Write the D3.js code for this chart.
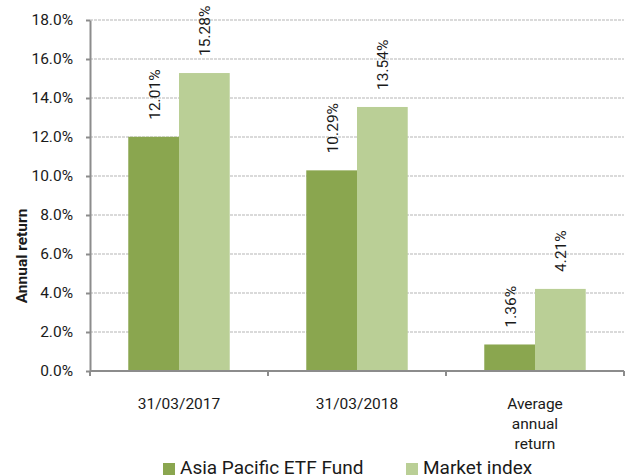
<!DOCTYPE html>
<html>
<head>
<meta charset="utf-8">
<script src="https://cdn.jsdelivr.net/npm/d3@7"></script>
<style>
  body { margin: 0; background: #fff; }
  svg { font-family: Roboto, "Noto Sans", sans-serif; }
</style>
</head>
<body>
<svg id="chart" width="628" height="475"></svg>
<script>
const categories = ["31/03/2017", "31/03/2018", "Average annual return"];
const categoryLines = [["31/03/2017"], ["31/03/2018"], ["Average", "annual", "return"]];
const seriesNames = ["Asia Pacific ETF Fund", "Market index"];
const fundValues = [12.01, 10.29, 1.36];
const indexValues = [15.28, 13.54, 4.21];
const yTicks = [0, 2, 4, 6, 8, 10, 12, 14, 16, 18];
const colors = ["#8AA64F", "#BACF96"];

const margin = {top: 20, right: 4, bottom: 104, left: 90};
const width = 628 - margin.left - margin.right;
const height = 475 - margin.top - margin.bottom;

const svg = d3.select("#chart")
    .append("g")
    .attr("transform", "translate(" + margin.left + "," + margin.top + ")");

const x = d3.scaleBand()
    .domain(categories)
    .range([0, width])
    .paddingInner(0)
    .paddingOuter(0);

const xInner = d3.scaleBand()
    .domain(seriesNames)
    .range([0, x.bandwidth() * 0.57])
    .padding(0);

const y = d3.scaleLinear()
    .domain([0, 18])
    .range([height, 0]);

// gridlines
svg.append("g")
    .selectAll("line")
    .data(yTicks.filter(d => d > 0))
    .join("line")
        .attr("x1", 0)
        .attr("x2", width)
        .attr("y1", d => y(d))
        .attr("y2", d => y(d))
        .attr("stroke", "#b5b5b5")
        .attr("stroke-width", 1)
        .attr("stroke-dasharray", "3,1");

// bars
const rows = categories.map((c, i) => ({cat: c, values: [fundValues[i], indexValues[i]]}));
const offset = x.bandwidth() * (1 - 0.57) / 2;

const groups = svg.append("g")
    .selectAll("g")
    .data(rows)
    .join("g")
        .attr("transform", d => "translate(" + (x(d.cat) + offset) + ",0)");

groups.selectAll("rect")
    .data(d => d.values.map((v, j) => ({name: seriesNames[j], value: v, idx: j})))
    .join("rect")
        .attr("x", d => xInner(d.name))
        .attr("y", d => y(d.value))
        .attr("width", xInner.bandwidth())
        .attr("height", d => height - y(d.value))
        .attr("fill", d => colors[d.idx]);

groups.selectAll("text")
    .data(d => d.values.map((v, j) => ({name: seriesNames[j], value: v})))
    .join("text")
        .attr("transform", d => "translate(" + (xInner(d.name) + xInner.bandwidth() / 2 + 6) + "," + (y(d.value) - 17) + ")rotate(-90)")
        .attr("text-anchor", "start")
        .style("font-size", "15.5px")
        .style("fill", "#1a1a1a")
        .text(d => d.value.toFixed(2) + "%");

// y axis
const yAxis = svg.append("g")
    .call(d3.axisLeft(y).tickValues(yTicks).tickSize(4).tickSizeOuter(0).tickFormat(d => d.toFixed(1) + "%"));
yAxis.select(".domain").attr("stroke", "#8c8c8c").attr("stroke-width", 2);
yAxis.selectAll(".tick line").attr("stroke", "#8c8c8c").attr("stroke-width", 2);
yAxis.selectAll(".tick text")
    .attr("x", -17)
    .style("font-size", "15.5px")
    .style("font-family", "Roboto, sans-serif")
    .style("fill", "#1a1a1a");

// x axis
const xAxisG = svg.append("g")
    .attr("transform", "translate(0," + height + ")");
xAxisG.append("line")
    .attr("x1", 0).attr("x2", width)
    .attr("stroke", "#8c8c8c").attr("stroke-width", 2);
xAxisG.selectAll(".xtick")
    .data(categories.map(c => x(c)).concat([width]))
    .join("line")
        .attr("class", "xtick")
        .attr("x1", d => d).attr("x2", d => d)
        .attr("y1", 0).attr("y2", 5)
        .attr("stroke", "#8c8c8c").attr("stroke-width", 2);

xAxisG.selectAll(".xlabel")
    .data(categories)
    .join("text")
        .attr("class", "xlabel")
        .attr("x", d => x(d) + x.bandwidth() / 2)
        .attr("y", 37.5)
        .attr("text-anchor", "middle")
        .style("font-size", "15.5px")
        .style("fill", "#1a1a1a")
        .each(function(d, i) {
            d3.select(this).selectAll("tspan")
                .data(categoryLines[i])
                .join("tspan")
                    .attr("x", x(d) + x.bandwidth() / 2)
                    .attr("dy", (t, k) => k === 0 ? 0 : "1.32em")
                    .text(t => t);
        });

// y title
svg.append("text")
    .attr("transform", "translate(-63," + (256 - margin.top) + ")rotate(-90)")
    .attr("text-anchor", "middle")
    .style("font-size", "15.5px")
    .style("font-weight", "bold")
    .style("fill", "#1a1a1a")
    .text("Annual return");

// legend
const legendX = [163, 406];
const legend = d3.select("#chart").append("g");
legend.selectAll("rect")
    .data(seriesNames)
    .join("rect")
        .attr("x", (d, i) => legendX[i])
        .attr("y", 463)
        .attr("width", 12)
        .attr("height", 12)
        .attr("fill", (d, i) => colors[i]);
legend.selectAll("text")
    .data(seriesNames)
    .join("text")
        .attr("x", (d, i) => legendX[i] + 17)
        .attr("y", 474)
        .style("font-size", "19px")
        .style("fill", "#1a1a1a")
        .text(d => d);
</script>
</body>
</html>
